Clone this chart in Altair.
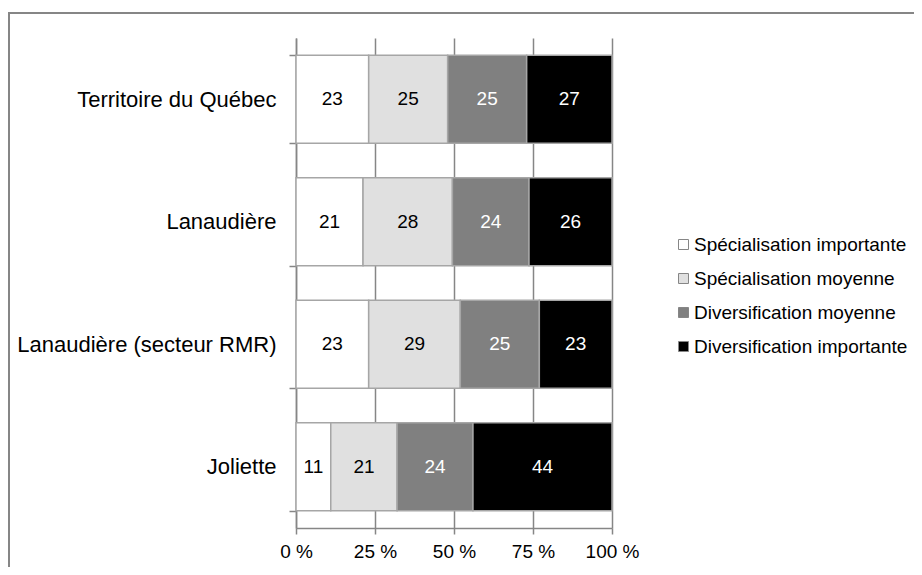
import altair as alt
import pandas as pd

categories = ["Territoire du Québec", "Lanaudière", "Lanaudière (secteur RMR)", "Joliette"]
series = ["Spécialisation importante", "Spécialisation moyenne",
          "Diversification moyenne", "Diversification importante"]
spec_importante = [23, 21, 23, 11]
spec_moyenne = [25, 28, 29, 21]
div_moyenne = [25, 24, 25, 24]
div_importante = [27, 26, 23, 44]
colors = ["#ffffff", "#e0e0e0", "#808080", "#000000"]
x_ticks = [0, 25, 50, 75, 100]

series_values = [spec_importante, spec_moyenne, div_moyenne, div_importante]
rows = []
for i, c in enumerate(categories):
    for j, s in enumerate(series):
        rows.append({"cat": c, "series": s, "order": j, "value": series_values[j][i]})
df = pd.DataFrame(rows)

FONT = "Liberation Sans"
GRAY = "#868686"

base = alt.Chart(df).transform_stack(
    stack="value", as_=["x0", "x1"], groupby=["cat"],
    sort=[alt.SortField("order")], offset="normalize"
).transform_calculate(
    p0="datum.x0*100", p1="datum.x1*100", mid="(datum.x0+datum.x1)*50"
)

yenc = alt.Y("cat:N", sort=categories,
             scale=alt.Scale(paddingInner=0.28, paddingOuter=0.14),
             axis=alt.Axis(title=None, tickBand="extent", tickSize=7, tickColor=GRAY,
                           tickWidth=1.5, domainColor=GRAY, domainWidth=1.5,
                           labelFontSize=22, labelFont=FONT, labelColor="#000",
                           labelPadding=13, labelLimit=0))

bars = base.mark_bar(stroke="#a6a6a6", strokeWidth=1.5).encode(
    x=alt.X("p0:Q", scale=alt.Scale(domain=[0, 100], nice=False),
            axis=alt.Axis(title=None, values=x_ticks, labelExpr="datum.value + ' %'",
                          grid=True, gridColor=GRAY, gridWidth=1.5,
                          tickColor=GRAY, tickSize=6, tickWidth=1.5,
                          domainColor=GRAY, domainWidth=1.5,
                          labelFontSize=19, labelFont=FONT, labelColor="#000",
                          labelPadding=8, labelFlush=False, labelOverlap=False)),
    x2="p1:Q",
    y=yenc,
    color=alt.Color("series:N", scale=alt.Scale(domain=series, range=colors),
                    legend=alt.Legend(title=None, orient="none", legendX=378, legendY=197,
                                      symbolType="square", symbolSize=100,
                                      symbolStrokeColor=GRAY, symbolStrokeWidth=1,
                                      labelFontSize=19, labelFont=FONT, labelColor="#000",
                                      rowPadding=14, labelOffset=1, labelLimit=0)),
    order=alt.Order("order:Q"),
)

labels = base.mark_text(fontSize=19, font=FONT).encode(
    x=alt.X("mid:Q"),
    y=alt.Y("cat:N", sort=categories),
    text=alt.Text("value:Q"),
    color=alt.condition("datum.order >= 2", alt.value("#ffffff"), alt.value("#000000")),
)

frame = alt.Chart(pd.DataFrame({"f": [0]})).mark_rect(
    fill=None, stroke=GRAY, strokeWidth=2
).encode(
    x=alt.value(-287), x2=alt.value(700), y=alt.value(-25), y2=alt.value(600)
)

chart = alt.layer(frame, bars, labels).properties(
    width=316, height=490,
    autosize=alt.AutoSizeParams(type="none"),
    padding={"left": 288, "top": 30, "right": 302, "bottom": 39},
).configure_view(stroke=None)

chart.save("out.html", embed_options={"renderer": "svg", "actions": False})
